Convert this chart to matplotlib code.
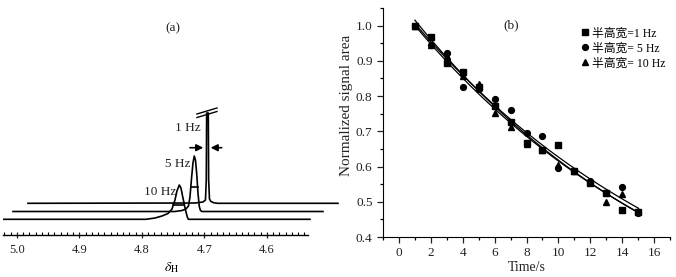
import numpy as np
import matplotlib.pyplot as plt
from matplotlib.ticker import MultipleLocator

plt.rcParams['font.family'] = ['Liberation Serif', 'Noto Sans CJK SC']
plt.rcParams['mathtext.fontset'] = 'stix'

# (a) 1H spectra, each in its own frame: chemical shift (ppm), intensity above baseline
ppm_10hz = [5.0224, 4.7936, 4.7792, 4.768, 4.7584, 4.752, 4.7472, 4.744, 4.7403,
            4.7376, 4.7344, 4.7304, 4.7272, 4.7256, 4.5312]
int_10hz = [0, 0, 1.3, 3.3, 5.8, 10.3, 19.3, 28.3, 34.3, 31.3, 21.3, 9.3, 1.8, 0, 0]
ppm_5hz = [5.0272, 4.768, 4.7568, 4.7504, 4.7464, 4.744, 4.7413, 4.7392, 4.7371,
           4.7352, 4.7333, 4.7312, 4.7291, 4.7272, 4.7248, 4.5312]
int_5hz = [0, 0, 1, 2.5, 5.5, 14.5, 34.5, 48.5, 55.5, 51.5, 38.5, 18.5, 5, 1, 0, 0]
ppm_1hz = [5.024, 4.7568, 4.744, 4.74, 4.7387, 4.7381, 4.7355, 4.7349, 4.7336,
           4.7312, 4.7264, 4.72, 4.528]
int_1hz = [0, 0.3, 1.3, 3.3, 23.3, 90.3, 90.3, 23.3, 4.3, 1.8, 0.5, 0, 0]
# half-height bars (left ppm, right ppm, height)
bar_5hz = (4.7427, 4.7318, 24.2)
bar_10hz = (4.7501, 4.7320, 14.0)

# (b) normalized signal area vs time
time_s = np.arange(1, 16)
area_1hz = [1.0, 0.969, 0.895, 0.869, 0.827, 0.773, 0.727, 0.668, 0.647, 0.662,
            0.588, 0.552, 0.524, 0.477, 0.472]
area_5hz = [1.0, 0.944, 0.922, 0.827, 0.820, 0.791, 0.760, 0.694, 0.687, 0.595,
            0.588, 0.558, 0.524, 0.541, 0.469]
area_10hz = [1.0, 0.945, 0.915, 0.856, 0.834, 0.751, 0.713, 0.665, 0.647, 0.605,
             0.588, 0.557, 0.500, 0.521, 0.475]
labels = ['半高宽=1 Hz', '半高宽= 5 Hz', '半高宽= 10 Hz']

fig = plt.figure(figsize=(6.76, 2.77), dpi=100)

# ---------------- (a) ----------------
ax1 = fig.add_axes([0.0044, 0.1516, 0.4985, 0.7762])
ax1.set_xlim(5.0224, 4.4832)
ax1.set_ylim(-15.7, 199.3)
for s in ['top', 'right', 'left']:
    ax1.spines[s].set_visible(False)
ax1.spines['bottom'].set_bounds(5.0224, 4.5344)
ax1.spines['bottom'].set_linewidth(1.0)
ax1.set_yticks([])
ax1.set_xticks([5.0, 4.9, 4.8, 4.7, 4.6])
ax1.set_xticklabels(['5.0', '4.9', '4.8', '4.7', '4.6'])
ax1.set_xticks(np.arange(4.54, 5.025, 0.01), minor=True)
ax1.tick_params(axis='x', which='major', direction='inout', length=5, width=0.9,
                labelsize=9, pad=4, colors='#222')
ax1.tick_params(axis='x', which='minor', direction='in', length=2.2, width=0.8)
ax1.set_xlabel(r'$\delta_\mathrm{H}$', fontsize=10, labelpad=3)

# stacked traces: shift in ppm and intensity
shift_ppm = [0.0, -0.0208, -0.0416]
shift_int = [0.0, 7.8, 16.0]
traces = [(ppm_10hz, int_10hz), (ppm_5hz, int_5hz), (ppm_1hz, int_1hz)]
for (px, iy), dx, dy in zip(traces, shift_ppm, shift_int):
    ax1.plot(np.array(px) + dx, np.array(iy) + dy, color='k', lw=1.2)

for (l, r, h), dx, dy in [(bar_10hz, shift_ppm[0], shift_int[0]),
                          (bar_5hz, shift_ppm[1], shift_int[1])]:
    ax1.plot([l + dx, r + dx], [h + dy, h + dy], color='k', lw=1.2)

# break marks on top of 1 Hz peak
ax1.plot([4.712, 4.680], [105.3, 111.3], color='k', lw=1.0)
ax1.plot([4.712, 4.680], [101.8, 107.8], color='k', lw=1.0)

# arrows for the width
ap = dict(arrowstyle='-|>', color='k', lw=1.2, mutation_scale=10,
          shrinkA=0, shrinkB=0)
ax1.annotate('', xy=(4.7019, 71.6), xytext=(4.7232, 71.6), arrowprops=ap)
ax1.annotate('', xy=(4.6901, 71.6), xytext=(4.6725, 71.6), arrowprops=ap)

ax1.text(4.7264, 91.8, '1 Hz', fontsize=9.5, ha='center', va='center', color='#222')
ax1.text(4.7424, 55.3, '5 Hz', fontsize=9.5, ha='center', va='center', color='#222')
ax1.text(4.7717, 27.3, '10 Hz', fontsize=9.5, ha='center', va='center', color='#222')
ax1.text(0.504, 0.963, '(a)', transform=ax1.transAxes, fontsize=9.5,
         ha='center', va='center', color='#222')

# ---------------- (b) ----------------
ax2 = fig.add_axes([0.5666, 0.1444, 0.4246, 0.8267])
ax2.set_xlim(-1, 17)
ax2.set_ylim(0.4, 1.05)
ax2.spines['top'].set_visible(False)
ax2.spines['right'].set_visible(False)
ax2.xaxis.set_major_locator(MultipleLocator(2))
ax2.xaxis.set_minor_locator(MultipleLocator(1))
ax2.yaxis.set_major_locator(MultipleLocator(0.1))
ax2.yaxis.set_minor_locator(MultipleLocator(0.05))
ax2.tick_params(which='major', direction='out', length=4, width=0.9,
                labelsize=9.5, colors='#222')
ax2.tick_params(which='minor', direction='out', length=2.5, width=0.9)
ax2.set_xlabel('Time/s', fontsize=10, labelpad=1, color='#222')
ax2.set_ylabel('Normalized signal area', fontsize=11, color='#222')
ax2.yaxis.set_label_coords(-0.105, 0.575)

markers = ['s', 'o', '^']
for y, m, lab in zip([area_1hz, area_5hz, area_10hz], markers, labels):
    ax2.plot(time_s, y, m, color='k', ms=4.2, label=lab)
    b, a = np.polyfit(time_s, np.log(y), 1)
    tt = np.linspace(1, 15, 60)
    ax2.plot(tt, np.exp(a + b * tt), color='k', lw=0.9)

ax2.text(7.05, 1.0, '(b)', fontsize=9.5, ha='center', va='center', color='#222')
ax2.legend(loc='upper left', bbox_to_anchor=(0.69, 0.915), frameon=False,
           fontsize=8.5, handlelength=0.6, handletextpad=0.35, labelspacing=0.25,
           borderaxespad=0, borderpad=0)

fig.savefig('out.png', dpi=100)
